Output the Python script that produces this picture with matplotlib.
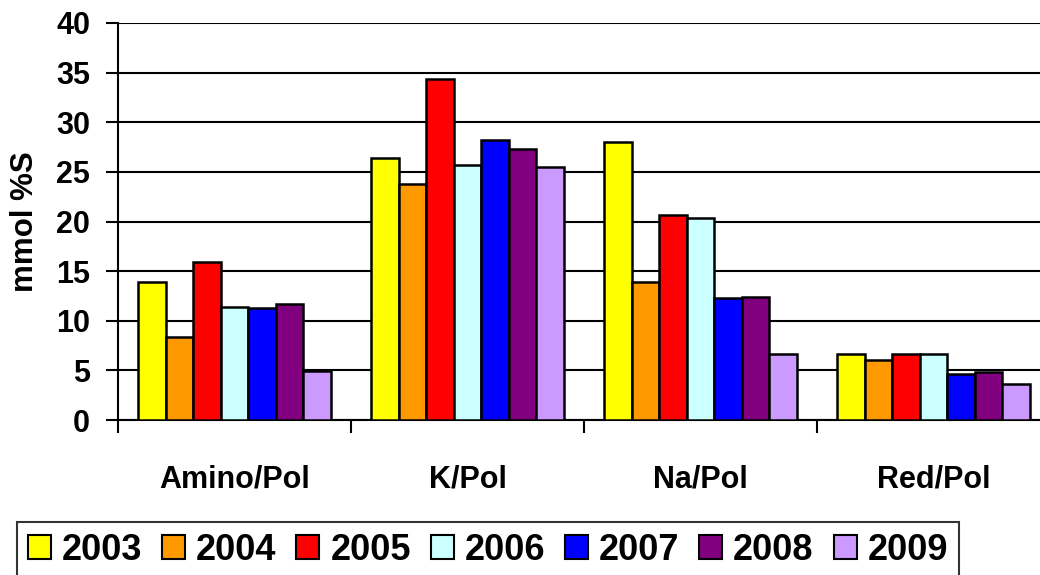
import matplotlib

matplotlib.use("Agg")
import matplotlib.pyplot as plt
import numpy as np

plt.rcParams["font.family"] = ["Liberation Sans", "DejaVu Sans"]
plt.rcParams["font.weight"] = "bold"
plt.rcParams["axes.labelweight"] = "bold"

categories = ["Amino/Pol", "K/Pol", "Na/Pol", "Red/Pol"]
years = ["2003", "2004", "2005", "2006", "2007", "2008", "2009"]
colors = ["#FFFF00", "#FF9900", "#FF0000", "#CCFFFF", "#0000FF", "#800080", "#CC99FF"]

# rows = years, columns = categories
v2003 = [13.9, 26.4, 28.0, 6.7]
v2004 = [8.4, 23.8, 13.9, 6.05]
v2005 = [15.9, 34.4, 20.7, 6.6]
v2006 = [11.35, 25.7, 20.4, 6.6]
v2007 = [11.3, 28.2, 12.3, 4.6]
v2008 = [11.7, 27.3, 12.4, 4.8]
v2009 = [4.9, 25.5, 6.7, 3.6]
series = [v2003, v2004, v2005, v2006, v2007, v2008, v2009]

fig = plt.figure(figsize=(10.4, 5.75), dpi=100)
ax = fig.add_axes([118 / 1040, 155 / 575, 932 / 1040, 397 / 575])

x = np.arange(len(categories))
w = 0.118
n = len(series)
for i, (vals, col, yr) in enumerate(zip(series, colors, years)):
    ax.bar(x + (i - (n - 1) / 2) * w, vals, w, color=col, edgecolor="black",
           linewidth=1.8, label=yr, zorder=3)

ax.set_ylim(0, 40)
ax.set_xlim(-0.5, 3.5)
ax.set_yticks(np.arange(0, 41, 5))
ax.yaxis.grid(True, color="black", linewidth=1.5, zorder=0)
ax.tick_params(axis="y", direction="out", length=9, width=1.5, labelsize=22, pad=11)

ax.set_xticks(x)
ax.set_xticklabels(categories)
ax.set_xticks(np.arange(-0.5, 4, 1), minor=True)
ax.tick_params(axis="x", which="major", length=0, labelsize=22, pad=32)
ax.tick_params(axis="x", which="minor", direction="out", length=9, width=1.5)

for side in ("top", "right"):
    ax.spines[side].set_visible(False)
for side in ("left", "bottom"):
    ax.spines[side].set_linewidth(1.5)

ax.set_ylabel("mmol %S", fontsize=22.5, labelpad=12)

leg = fig.legend(loc="upper left", bbox_to_anchor=(17 / 1040, 1 - 522 / 575),
                 ncol=7, fontsize=26, frameon=True, fancybox=False,
                 handlelength=0.64, handleheight=0.64, handletextpad=0.3,
                 columnspacing=0.55, borderpad=0.3, borderaxespad=0)
leg.get_frame().set_edgecolor("black")
leg.get_frame().set_linewidth(1.5)
for h in leg.legend_handles:
    h.set_linewidth(1.5)

fig.savefig("out.png", dpi=100)
